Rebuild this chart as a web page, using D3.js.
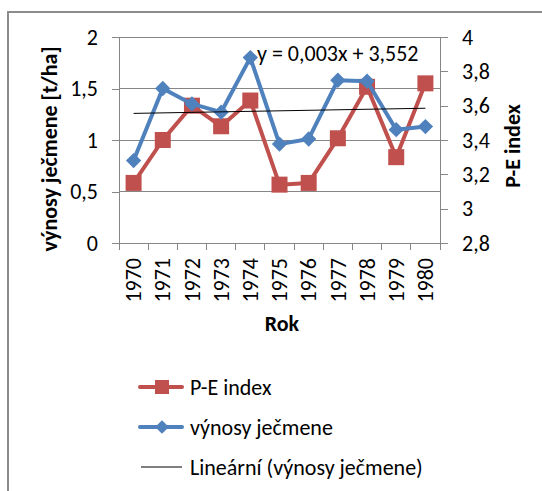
<!DOCTYPE html>
<html>
<head>
<meta charset="utf-8">
<script src="https://cdn.jsdelivr.net/npm/d3@7"></script>
<style>
  body { margin: 0; background: #fff; }
  svg text { font-family: Carlito, Calibri, "Open Sans", sans-serif; fill: #000; }
</style>
</head>
<body>
<div id="chart"></div>
<script>
var svgWidth = 542;
var svgHeight = 491;

// values
var years = ["1970", "1971", "1972", "1973", "1974", "1975", "1976", "1977", "1978", "1979", "1980"];
var vynosy = [0.8, 1.5, 1.35, 1.27, 1.8, 0.96, 1.01, 1.58, 1.57, 1.1, 1.13];
var peIndex = [3.15, 3.4, 3.6, 3.48, 3.63, 3.14, 3.15, 3.41, 3.71, 3.3, 3.73];
var trendYears = ["1970", "1980"];
var trendValues = [3.555, 3.585];
var leftTicks = [0, 0.5, 1, 1.5, 2];
var rightTicks = [2.8, 3, 3.2, 3.4, 3.6, 3.8, 4];
var legendLabels = ["P-E index", "výnosy ječmene", "Lineární (výnosy ječmene)"];
var equation = "y = 0,003x + 3,552";

var red = "#C0504D";
var blue = "#4F81BD";
var gridColor = "#868686";
var fontSize = 22;

var plot = { left: 119, right: 440, top: 37, bottom: 243 };

var locale = d3.formatLocale({ decimal: ",", thousands: " ", grouping: [3], currency: ["", ""] });
var fmt = locale.format("~g");

var svg = d3.select("#chart")
  .append("svg")
  .attr("width", svgWidth)
  .attr("height", svgHeight);

// outer chart border (runs off the picture at right and bottom)
svg.append("rect")
  .attr("x", 8).attr("y", 12)
  .attr("width", 700).attr("height", 700)
  .attr("fill", "none")
  .attr("stroke", "#8c8c8c")
  .attr("stroke-width", 2);

var xScale = d3.scaleBand()
  .domain(years)
  .range([plot.left, plot.right]);

var yLeft = d3.scaleLinear()
  .domain([0, 2])
  .range([plot.bottom, plot.top]);

var yRight = d3.scaleLinear()
  .domain([2.8, 4])
  .range([plot.bottom, plot.top]);

// gridlines from left axis
svg.append("g")
  .selectAll("line")
  .data(leftTicks.filter(d => d > 0))
  .enter().append("line")
  .attr("x1", plot.left).attr("x2", plot.right)
  .attr("y1", d => yLeft(d)).attr("y2", d => yLeft(d))
  .attr("stroke", gridColor)
  .attr("stroke-width", 1)
  .attr("shape-rendering", "crispEdges");

// left axis
var leftAxis = svg.append("g")
  .attr("transform", `translate(${plot.left},0)`)
  .call(d3.axisLeft(yLeft).tickValues(leftTicks).tickFormat(fmt).tickSize(7).tickPadding(14));

// right axis
var rightAxis = svg.append("g")
  .attr("transform", `translate(${plot.right},0)`)
  .call(d3.axisRight(yRight).tickValues(rightTicks).tickFormat(fmt).tickSize(8).tickPadding(14));

// bottom axis: labels at category centres, ticks on boundaries
var bottomAxis = svg.append("g")
  .attr("transform", `translate(0,${plot.bottom})`)
  .call(d3.axisBottom(xScale).tickSize(0).tickPadding(0));

bottomAxis.selectAll(".tick text")
  .attr("transform", "rotate(-90)")
  .attr("text-anchor", "end")
  .attr("x", -15)
  .attr("y", 0)
  .attr("dy", "0.35em");

bottomAxis.selectAll(".boundary")
  .data(years.map(d => xScale(d)).concat([xScale.range()[1]]))
  .enter().append("line")
  .attr("class", "boundary")
  .attr("x1", d => d).attr("x2", d => d)
  .attr("y1", 0).attr("y2", 7)
  .attr("stroke", gridColor)
  .attr("shape-rendering", "crispEdges");

[leftAxis, rightAxis, bottomAxis].forEach(function(g) {
  g.selectAll(".domain").attr("stroke", gridColor).attr("shape-rendering", "crispEdges");
  g.selectAll(".tick line").attr("stroke", gridColor).attr("shape-rendering", "crispEdges");
  g.selectAll("text").attr("font-size", fontSize).attr("fill", "#000").attr("font-family", null);
});
leftAxis.select(".domain").attr("d", `M0,${plot.top}V${plot.bottom}`);
rightAxis.select(".domain").attr("d", `M0,${plot.top}V${plot.bottom}`);
bottomAxis.select(".domain").attr("d", `M${plot.left},0H${plot.right}`);

// axis titles
svg.append("text")
  .attr("transform", "translate(57,149) rotate(-90)")
  .attr("text-anchor", "middle")
  .attr("font-size", fontSize)
  .attr("font-weight", "bold")
  .text("výnosy ječmene [t/ha]");

svg.append("text")
  .attr("transform", "translate(520,146) rotate(-90)")
  .attr("text-anchor", "middle")
  .attr("font-size", fontSize)
  .attr("font-weight", "bold")
  .text("P-E index");

svg.append("text")
  .attr("x", 282)
  .attr("y", 331)
  .attr("text-anchor", "middle")
  .attr("font-size", fontSize)
  .attr("font-weight", "bold")
  .text("Rok");

// trend equation
svg.append("text")
  .attr("x", 257)
  .attr("y", 61)
  .attr("font-size", fontSize)
  .text(equation);

var cx = d => xScale(d) + xScale.bandwidth() / 2;

// P-E index series
var peLine = d3.line()
  .x((d, i) => cx(years[i]))
  .y(d => yRight(d));

svg.append("path")
  .datum(peIndex)
  .attr("d", peLine)
  .attr("fill", "none")
  .attr("stroke", red)
  .attr("stroke-width", 4)
  .attr("stroke-linejoin", "round");

svg.append("g")
  .selectAll("rect")
  .data(peIndex)
  .enter().append("rect")
  .attr("x", (d, i) => cx(years[i]) - 8)
  .attr("y", d => yRight(d) - 8)
  .attr("width", 16)
  .attr("height", 16)
  .attr("fill", red);

// výnosy series
var vLine = d3.line()
  .x((d, i) => cx(years[i]))
  .y(d => yLeft(d));

svg.append("path")
  .datum(vynosy)
  .attr("d", vLine)
  .attr("fill", "none")
  .attr("stroke", blue)
  .attr("stroke-width", 4)
  .attr("stroke-linejoin", "round");

var diamond = d3.symbol().type(d3.symbolDiamond2).size(150);

svg.append("g")
  .selectAll("path")
  .data(vynosy)
  .enter().append("path")
  .attr("d", diamond)
  .attr("transform", (d, i) => `translate(${cx(years[i])},${yLeft(d)})`)
  .attr("fill", blue);

// linear trend
svg.append("line")
  .attr("x1", cx(trendYears[0]))
  .attr("x2", cx(trendYears[1]))
  .attr("y1", yRight(trendValues[0]))
  .attr("y2", yRight(trendValues[1]))
  .attr("stroke", "#000")
  .attr("stroke-width", 1);

// legend
var legendY = [387, 427, 467];
var legend = svg.append("g");

legend.append("line")
  .attr("x1", 140).attr("x2", 182)
  .attr("y1", legendY[0]).attr("y2", legendY[0])
  .attr("stroke", red).attr("stroke-width", 4).attr("stroke-linecap", "round");
legend.append("rect")
  .attr("x", 162 - 7).attr("y", legendY[0] - 7)
  .attr("width", 14).attr("height", 14)
  .attr("fill", red);

legend.append("line")
  .attr("x1", 140).attr("x2", 182)
  .attr("y1", legendY[1]).attr("y2", legendY[1])
  .attr("stroke", blue).attr("stroke-width", 4).attr("stroke-linecap", "round");
legend.append("path")
  .attr("d", d3.symbol().type(d3.symbolDiamond2).size(120))
  .attr("transform", `translate(162,${legendY[1]})`)
  .attr("fill", blue);

legend.append("line")
  .attr("x1", 141).attr("x2", 182)
  .attr("y1", legendY[2]).attr("y2", legendY[2])
  .attr("stroke", "#000").attr("stroke-width", 1);

legend.selectAll(".lbl")
  .data(legendLabels)
  .enter().append("text")
  .attr("class", "lbl")
  .attr("x", 190)
  .attr("y", (d, i) => legendY[i])
  .attr("dy", "0.35em")
  .attr("font-size", fontSize)
  .text(d => d);
</script>
</body>
</html>
